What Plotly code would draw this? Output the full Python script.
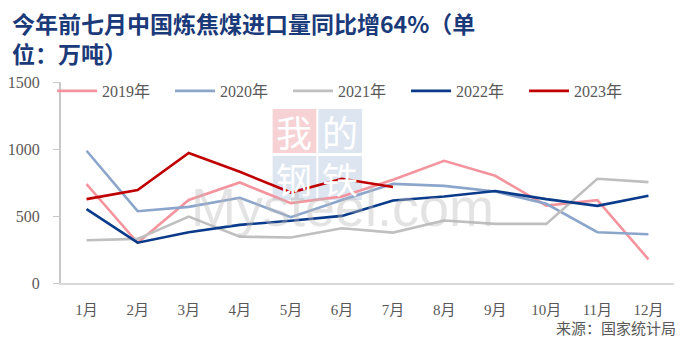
import plotly.graph_objects as go

months = ["1月", "2月", "3月", "4月", "5月", "6月", "7月", "8月", "9月", "10月", "11月", "12月"]

y2019 = [738, 300, 620, 750, 596, 645, 770, 912, 800, 578, 618, 177]
y2020 = [987, 536, 568, 636, 491, 620, 740, 725, 683, 591, 379, 364]
y2021 = [319, 329, 496, 346, 339, 409, 376, 466, 441, 441, 778, 753]
y2022 = [551, 301, 379, 434, 464, 501, 616, 645, 686, 626, 576, 651]
y2023 = [626, 693, 970, 830, 675, 778, 716]

series_names = ["2019年", "2020年", "2021年", "2022年", "2023年"]
series_values = [y2019, y2020, y2021, y2022, y2023]
series_colors = ["#F4949E", "#8CA5CB", "#BFBFBF", "#0A3A8A", "#C00000"]

y_ticks = [0, 500, 1000, 1500]

title_text = "今年前七月中国炼焦煤进口量同比增64%（单<br>位：万吨）"
source_text = "来源：国家统计局"

W, H = 682, 347
L, R, T, B = 57, 8, 82, 64
PW, PH = W - L - R, H - T - B

def px(x):
    return (x - L) / PW

def py(y):
    return (H - B - y) / PH

serif = "Liberation Serif, Times New Roman, Noto Sans CJK SC, serif"
cjk_bold = "Noto Sans CJK SC, sans-serif"

fig = go.Figure()
for name, vals, col in zip(series_names, series_values, series_colors):
    fig.add_trace(go.Scatter(
        x=months[:len(vals)], y=vals, name=name, mode="lines",
        line=dict(color=col, width=2.6),
        hoverinfo="skip",
    ))

# watermark tiles
tiles = [("我", 270, 109, "#F6D2D4"), ("的", 316, 109, "#DCE5F0"),
         ("钢", 270, 156, "#DCE5F0"), ("铁", 316, 156, "#DCE5F0")]
shapes = []
annotations = []
for ch, x0, y0, bg in tiles:
    shapes.append(dict(type="rect", xref="paper", yref="paper", layer="below",
                       x0=px(x0), x1=px(x0 + 44), y0=py(y0 + 44), y1=py(y0),
                       fillcolor=bg, line=dict(width=0)))
    annotations.append(dict(text=ch, xref="paper", yref="paper",
                            x=px(x0 + 22), y=py(y0 + 22), showarrow=False,
                            font=dict(family=cjk_bold, size=36, color="white"),
                            xanchor="center", yanchor="middle"))
annotations.append(dict(text="Mysteel.com", xref="paper", yref="paper",
                        x=px(340), y=py(207), showarrow=False,
                        font=dict(family="Liberation Sans, Arial, sans-serif", size=54,
                                  color="rgba(185,185,185,0.4)"),
                        xanchor="center", yanchor="middle"))

annotations += [
    dict(text=title_text, xref="paper", yref="paper", x=px(6), y=py(4),
         xanchor="left", yanchor="top", align="left", showarrow=False,
         font=dict(family=cjk_bold, size=23, color="#1B3A7A", weight="bold")),
    dict(text=source_text, xref="paper", yref="paper", x=px(678), y=py(329),
         xanchor="right", yanchor="middle", showarrow=False,
         font=dict(family=serif, size=15, color="#595959")),
]

fig.update_layout(
    width=W, height=H,
    margin=dict(l=L, r=R, t=T, b=B),
    paper_bgcolor="white", plot_bgcolor="white",
    showlegend=True,
    legend=dict(orientation="h", x=px(48), y=py(74), xanchor="left", yanchor="top",
                entrywidth=63, entrywidthmode="pixels",
                font=dict(family=serif, size=16, color="#595959"),
                bgcolor="rgba(0,0,0,0)", itemwidth=40),
    shapes=shapes,
    annotations=annotations,
)
fig.update_xaxes(type="category", range=[-0.5, 11.5], showgrid=False,
                 showline=True, linecolor="#D9D9D9", linewidth=2,
                 ticks="", ticklabelstandoff=12,
                 tickfont=dict(family=serif, size=15, color="#595959"))
fig.update_yaxes(range=[0, 1500], tickvals=y_ticks, showgrid=False, zeroline=False,
                 showline=True, linecolor="#C8C8C8", linewidth=2,
                 ticks="outside", ticklen=6, tickcolor="#C8C8C8", tickwidth=1,
                 ticklabelstandoff=10,
                 tickfont=dict(family=serif, size=16, color="#595959"))

fig.write_html("out.html")
